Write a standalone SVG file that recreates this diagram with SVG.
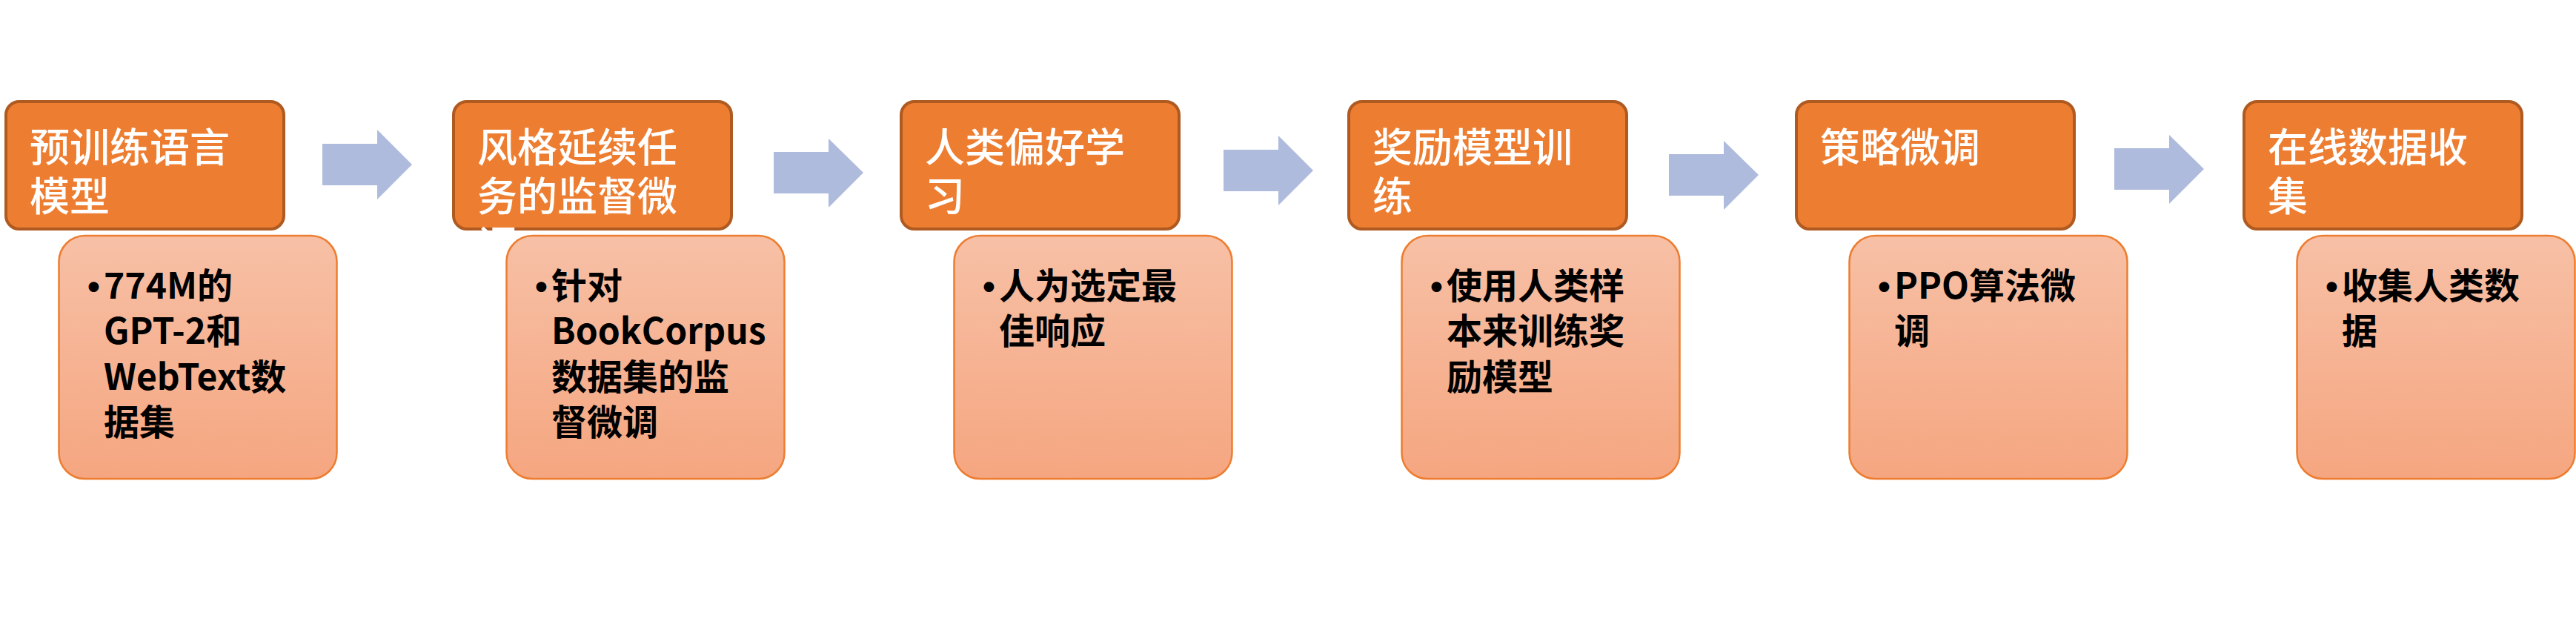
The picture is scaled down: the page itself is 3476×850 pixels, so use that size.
<svg xmlns="http://www.w3.org/2000/svg" width="3476" height="850" viewBox="0 0 3476 850">
<defs>
<linearGradient id="dg" x1="0" y1="0" x2="0" y2="1">
<stop offset="0" stop-color="#F7C0A6"/>
<stop offset="1" stop-color="#F5A680"/>
</linearGradient>
<style>
.hb{fill:#ED7D31;stroke:#AE5A21;stroke-width:4}
.db{fill:url(#dg);stroke:#ED7D31;stroke-width:2.5}
.ht{font-family:"Noto Sans CJK SC","Noto Sans",sans-serif;font-size:54px;font-weight:500;fill:#FFFFFF}
.dt{font-family:"Noto Sans CJK SC","Noto Sans",sans-serif;font-size:48px;font-weight:bold;fill:#000000}
.bu{font-family:"Liberation Sans",Arial,sans-serif;font-size:48px;font-weight:bold;fill:#000000}
.ar{fill:#AFBBDD}
</style>
</defs>
<rect width="3476" height="850" fill="#FFFFFF"/>
<g id="connectors">
<polygon class="ar" points="435,194 509,194 509,175 556,222 509,269 509,250 435,250"/>
<polygon class="ar" points="1044,205 1118,205 1118,187 1165,233 1118,280 1118,261 1044,261"/>
<polygon class="ar" points="1651,202 1725,202 1725,183 1772,230 1725,277 1725,258 1651,258"/>
<polygon class="ar" points="2252,208 2326,208 2326,190 2373,236 2326,283 2326,264 2252,264"/>
<polygon class="ar" points="2853,200 2927,200 2927,182 2974,228 2927,275 2927,256 2853,256"/>
</g>
<g id="step1">
<rect class="hb" x="8" y="137" width="375" height="172" rx="18"/>
<text class="ht"><tspan x="40" y="219">预训练语言</tspan><tspan x="40" y="285">模型</tspan></text>
</g>
<g id="step2">
<rect class="hb" x="612" y="137" width="375" height="172" rx="18"/>
<text class="ht"><tspan x="644" y="219">风格延续任</tspan><tspan x="644" y="285">务的监督微</tspan><tspan x="644" y="351">调</tspan></text>
</g>
<g id="step3">
<rect class="hb" x="1216" y="137" width="375" height="172" rx="18"/>
<text class="ht"><tspan x="1248" y="219">人类偏好学</tspan><tspan x="1248" y="285">习</tspan></text>
</g>
<g id="step4">
<rect class="hb" x="1820" y="137" width="375" height="172" rx="18"/>
<text class="ht"><tspan x="1852" y="219">奖励模型训</tspan><tspan x="1852" y="285">练</tspan></text>
</g>
<g id="step5">
<rect class="hb" x="2424" y="137" width="375" height="172" rx="18"/>
<text class="ht"><tspan x="2456" y="219">策略微调</tspan></text>
</g>
<g id="step6">
<rect class="hb" x="3028" y="137" width="375" height="172" rx="18"/>
<text class="ht"><tspan x="3060" y="219">在线数据收</tspan><tspan x="3060" y="285">集</tspan></text>
</g>
<g id="detail1">
<rect class="db" x="79.5" y="318" width="375" height="328" rx="35"/>
<text class="bu" x="118" y="403">•</text>
<text class="dt"><tspan x="140" y="403">774M的</tspan><tspan x="140" y="464">GPT-2和</tspan><tspan x="140" y="526">WebText数</tspan><tspan x="140" y="587">据集</tspan></text>
</g>
<g id="detail2">
<rect class="db" x="683.5" y="318" width="375" height="328" rx="35"/>
<text class="bu" x="722" y="403">•</text>
<text class="dt"><tspan x="744" y="403">针对</tspan><tspan x="744" y="464">BookCorpus</tspan><tspan x="744" y="526">数据集的监</tspan><tspan x="744" y="587">督微调</tspan></text>
</g>
<g id="detail3">
<rect class="db" x="1287.5" y="318" width="375" height="328" rx="35"/>
<text class="bu" x="1326" y="403">•</text>
<text class="dt"><tspan x="1348" y="403">人为选定最</tspan><tspan x="1348" y="464">佳响应</tspan></text>
</g>
<g id="detail4">
<rect class="db" x="1891.5" y="318" width="375" height="328" rx="35"/>
<text class="bu" x="1930" y="403">•</text>
<text class="dt"><tspan x="1952" y="403">使用人类样</tspan><tspan x="1952" y="464">本来训练奖</tspan><tspan x="1952" y="526">励模型</tspan></text>
</g>
<g id="detail5">
<rect class="db" x="2495.5" y="318" width="375" height="328" rx="35"/>
<text class="bu" x="2534" y="403">•</text>
<text class="dt"><tspan x="2556" y="403">PPO算法微</tspan><tspan x="2556" y="464">调</tspan></text>
</g>
<g id="detail6">
<rect class="db" x="3099.5" y="318" width="375" height="328" rx="35"/>
<text class="bu" x="3138" y="403">•</text>
<text class="dt"><tspan x="3160" y="403">收集人类数</tspan><tspan x="3160" y="464">据</tspan></text>
</g>
</svg>
